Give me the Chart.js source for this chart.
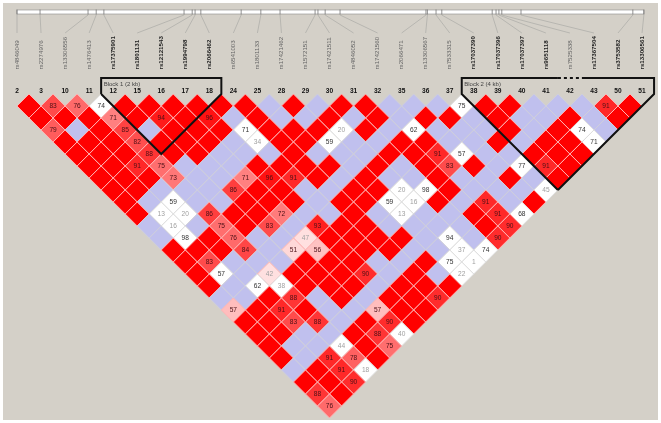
<!DOCTYPE html>
<html>
<head>
<meta charset="utf-8">
<title>LD plot</title>
<script src="https://cdn.jsdelivr.net/npm/chart.js@4"></script>
<style>
    html, body { margin: 0; padding: 0; background: #fff; }
    canvas { display: block; }
</style>
</head>
<body>
<canvas id="ld-chart" width="661" height="423"></canvas>
<script>
// Haploview style LD plot

const markers = ["2", "3", "10", "11", "12", "15", "16", "17", "18", "24", "25", "28", "29", "30", "31", "32", "35", "36", "37", "38", "39", "40", "41", "42", "43", "50", "51"];
const snpIds = ["rs4846049", "rs2274976", "rs13306556", "rs1476413", "rs17375901", "rs1801131", "rs12121543", "rs1994798", "rs2066462", "rs6541003", "rs1801133", "rs17421462", "rs1572151", "rs17421511", "rs4846052", "rs17421560", "rs2066471", "rs13306567", "rs7533315", "rs17037390", "rs17037396", "rs17037397", "rs9651118", "rs7525338", "rs17367504", "rs3753582", "rs13306561"];
const taggedSnps = ["rs17375901", "rs1801131", "rs12121543", "rs1994798", "rs2066462", "rs17037390", "rs17037396", "rs17037397", "rs9651118", "rs17367504", "rs3753582", "rs13306561"];
const markerKb = [0, 0.48, 1.48, 1.65, 1.81, 3.48, 3.65, 3.71, 3.83, 4.67, 5.08, 5.48, 6.21, 6.27, 6.42, 6.73, 8.52, 8.55, 8.73, 8.85, 9.90, 9.98, 10.04, 10.10, 10.50, 12.83, 13.06];

// R = D' 100 strong LD, L = D' 100 low LOD (lilac), number = D' shaded red, negative = white cell
const R = 100;
const L = 0;
const ldRows = [
    [R, 83, 76, -74, R, R, R, R, R, R, L, R, L, R, R, L, L, L, -75, R, R, L, L, L, 91, R],
    [R, R, R, 71, R, 94, R, 96, L, R, L, L, R, L, R, L, R, R, L, R, L, L, R, L, R],
    [79, L, R, 85, L, R, R, R, -71, R, R, R, -20, R, L, -62, L, L, L, R, L, R, -74, L],
    [R, R, R, 82, R, R, R, L, -34, R, R, -59, L, L, R, R, L, L, R, L, R, R, -71],
    [R, R, R, 88, R, R, L, L, L, R, L, L, L, R, R, 91, -57, L, L, R, R, R],
    [R, R, 91, 75, L, L, L, R, R, R, R, L, R, L, R, 83, R, L, -77, 91, R],
    [R, R, R, 73, L, L, 71, 96, 91, R, L, R, L, L, R, L, L, R, L, R],
    [R, R, L, L, L, 86, R, R, L, L, R, R, -20, -98, R, L, L, L, -45],
    [R, L, -59, L, L, R, R, R, L, R, R, -59, -16, R, L, 91, L, R],
    [R, -13, -20, 86, R, R, 72, L, L, R, L, -13, L, L, R, 91, -68],
    [L, -16, L, 75, R, 83, L, 93, R, R, L, L, L, L, R, 90],
    [L, -98, R, 76, L, L, 47, R, R, R, R, L, -94, L, 90],
    [R, R, R, 84, L, 51, 56, R, R, R, L, L, -37, -74],
    [R, 83, L, L, L, R, R, R, L, L, R, -75, -1],
    [R, -57, L, 42, R, R, R, 90, L, R, L, -22],
    [R, L, -62, -38, R, R, R, L, R, R, R],
    [L, L, R, 88, L, R, L, R, R, 90],
    [57, R, 91, R, L, L, 57, R, R],
    [R, R, 83, 88, L, R, 90, R],
    [R, R, L, L, R, 88, -40],
    [R, L, L, -44, R, 75],
    [R, L, 91, 78, R],
    [L, R, 91, -18],
    [R, R, 90],
    [88, R],
    [76],
];

// first and last marker of each haplotype block
const blockNames = ["Block 1 (2 kb)", "Block 2 (4 kb)"];
const blockFirst = [4, 19];
const blockLast = [8, 26];
const skippedMarker = 23; // rs7525338, dotted part of block 2 header

const FONT = '"Liberation Sans", Arial, sans-serif';
const HEADER_Y = -1.33;

function cellColor(v) {
    if (v === R) return "#ff0000";
    if (v === L) return "#c0c0ee";
    if (v < 0) return "#ffffff";
    const gb = Math.round(Math.min(224, 440 * (1 - v / 100)));
    return `rgb(255,${gb},${gb})`;
}

function cellBorder(v) {
    if (v === L) return "#cfcfdc";
    if (v < 0) return "#dedede";
    return "#ffb4b4";
}

function textColor(v) {
    const val = Math.abs(v);
    if (val < 50) return "#a0a0a0";
    return v < 0 ? "#333" : "#4a1016";
}

const cells = [];
ldRows.forEach((row, r) => {
    const sep = r + 1;
    row.forEach((v, i) => {
        cells.push({ x: i + sep / 2, y: sep, v: v });
    });
});

function lineSet(data, extra) {
    return Object.assign({
        type: "scatter",
        data: data,
        showLine: true,
        borderColor: "#111",
        borderWidth: 2,
        pointRadius: 0,
        tension: 0,
        fill: false,
    }, extra || {});
}

// header and the v shape under a block
const b1Left = blockFirst[0] - 0.5;
const b1Right = blockLast[0] + 0.5;
const b2Left = blockFirst[1] - 0.5;
const b2Right = blockLast[1] + 0.5;
const gapLeft = skippedMarker - 0.5;
const gapRight = skippedMarker + 0.5;

const block1Line = [
    { x: b1Left, y: 0 }, { x: b1Left, y: HEADER_Y }, { x: b1Right, y: HEADER_Y }, { x: b1Right, y: 0 },
    { x: (b1Left + b1Right) / 2, y: blockLast[0] - blockFirst[0] + 1 }, { x: b1Left, y: 0 },
];
const block2LeftLine = [
    { x: (b2Left + b2Right) / 2, y: blockLast[1] - blockFirst[1] + 1 }, { x: b2Left, y: 0 },
    { x: b2Left, y: HEADER_Y }, { x: gapLeft, y: HEADER_Y },
];
const block2GapLine = [{ x: gapLeft, y: HEADER_Y }, { x: gapRight, y: HEADER_Y }];
const block2RightLine = [
    { x: gapRight, y: HEADER_Y }, { x: b2Right, y: HEADER_Y }, { x: b2Right, y: 0 },
    { x: (b2Left + b2Right) / 2, y: blockLast[1] - blockFirst[1] + 1 },
];

const ldLabels = {
    id: "ldLabels",
    beforeDraw(chart) {
        const ctx = chart.ctx;
        ctx.save();
        ctx.fillStyle = "#fff";
        ctx.fillRect(0, 0, chart.width, chart.height);
        ctx.fillStyle = "#d4d0c8";
        ctx.fillRect(3, 3, chart.width - 6, chart.height - 6);
        ctx.restore();
    },
    afterDatasetsDraw(chart) {
        const ctx = chart.ctx;
        const xs = chart.scales.x;
        const ys = chart.scales.y;
        const kb = chart.scales.kb;
        ctx.save();

        // gene track
        const x0 = kb.getPixelForValue(markerKb[0]);
        const x1 = kb.getPixelForValue(markerKb[markerKb.length - 1]);
        ctx.fillStyle = "#fff";
        ctx.fillRect(x0, 10, x1 - x0, 4);
        ctx.strokeStyle = "#8a8a8a";
        ctx.lineWidth = 0.6;
        ctx.strokeRect(x0, 10, x1 - x0, 4);
        markerKb.forEach((k, i) => {
            const px = kb.getPixelForValue(k);
            ctx.strokeStyle = "#666";
            ctx.lineWidth = 0.7;
            ctx.beginPath();
            ctx.moveTo(px, 9.5);
            ctx.lineTo(px, 14.5);
            ctx.stroke();
            ctx.strokeStyle = "#aaaaa6";
            ctx.beginPath();
            ctx.moveTo(px, 15);
            ctx.lineTo(xs.getPixelForValue(i), 33);
            ctx.stroke();
        });

        // rotated snp names
        snpIds.forEach((id, i) => {
            const bold = taggedSnps.includes(id);
            ctx.save();
            ctx.translate(xs.getPixelForValue(i), 69.5);
            ctx.rotate(-Math.PI / 2);
            ctx.textAlign = "left";
            ctx.textBaseline = "middle";
            ctx.font = (bold ? "bold " : "") + "6.2px " + FONT;
            ctx.fillStyle = bold ? "#222" : "#666";
            ctx.fillText(id, 0, 0);
            ctx.restore();
        });

        // marker numbers
        ctx.textAlign = "center";
        ctx.textBaseline = "middle";
        ctx.font = "bold 6.6px " + FONT;
        ctx.fillStyle = "#111";
        markers.forEach((m, i) => {
            ctx.fillText(m, xs.getPixelForValue(i), 91);
        });

        // block names
        ctx.textAlign = "left";
        ctx.font = "6px " + FONT;
        ctx.fillStyle = "#444";
        blockNames.forEach((name, b) => {
            ctx.fillText(name, xs.getPixelForValue(blockFirst[b] - 0.5) + 2.5, 84);
        });

        // D' values
        ctx.textAlign = "center";
        ctx.font = "6.6px " + FONT;
        cells.forEach(c => {
            if (c.v === R || c.v === L) return;
            ctx.fillStyle = textColor(c.v);
            ctx.fillText(String(Math.abs(c.v)), xs.getPixelForValue(c.x), ys.getPixelForValue(c.y) + 0.5);
        });
        ctx.restore();
    },
};

new Chart(document.getElementById("ld-chart"), {
    type: "scatter",
    data: {
        datasets: [
            lineSet(block1Line),
            lineSet(block2LeftLine),
            lineSet(block2GapLine, { borderDash: [3, 3] }),
            lineSet(block2RightLine),
            {
                type: "scatter",
                data: cells,
                pointStyle: "rectRot",
                pointRadius: 12,
                pointHoverRadius: 12,
                backgroundColor: cells.map(c => cellColor(c.v)),
                borderColor: cells.map(c => cellBorder(c.v)),
                borderWidth: 1,
            },
        ],
    },
    options: {
        responsive: false,
        animation: false,
        events: [],
        layout: { padding: 0, autoPadding: false },
        plugins: {
            legend: { display: false },
            tooltip: { enabled: false },
        },
        // one marker is 24.04 px across, one step of marker separation 12 px down
        scales: {
            x: { type: "linear", display: false, min: -17 / 24.04, max: (661 - 17) / 24.04 },
            y: { type: "linear", display: false, reverse: true, min: -94 / 12, max: (423 - 94) / 12 },
            kb: { type: "linear", display: false, axis: "x", min: -17 / 48, max: (661 - 17) / 48 },
        },
    },
    plugins: [ldLabels],
});
</script>
</body>
</html>
